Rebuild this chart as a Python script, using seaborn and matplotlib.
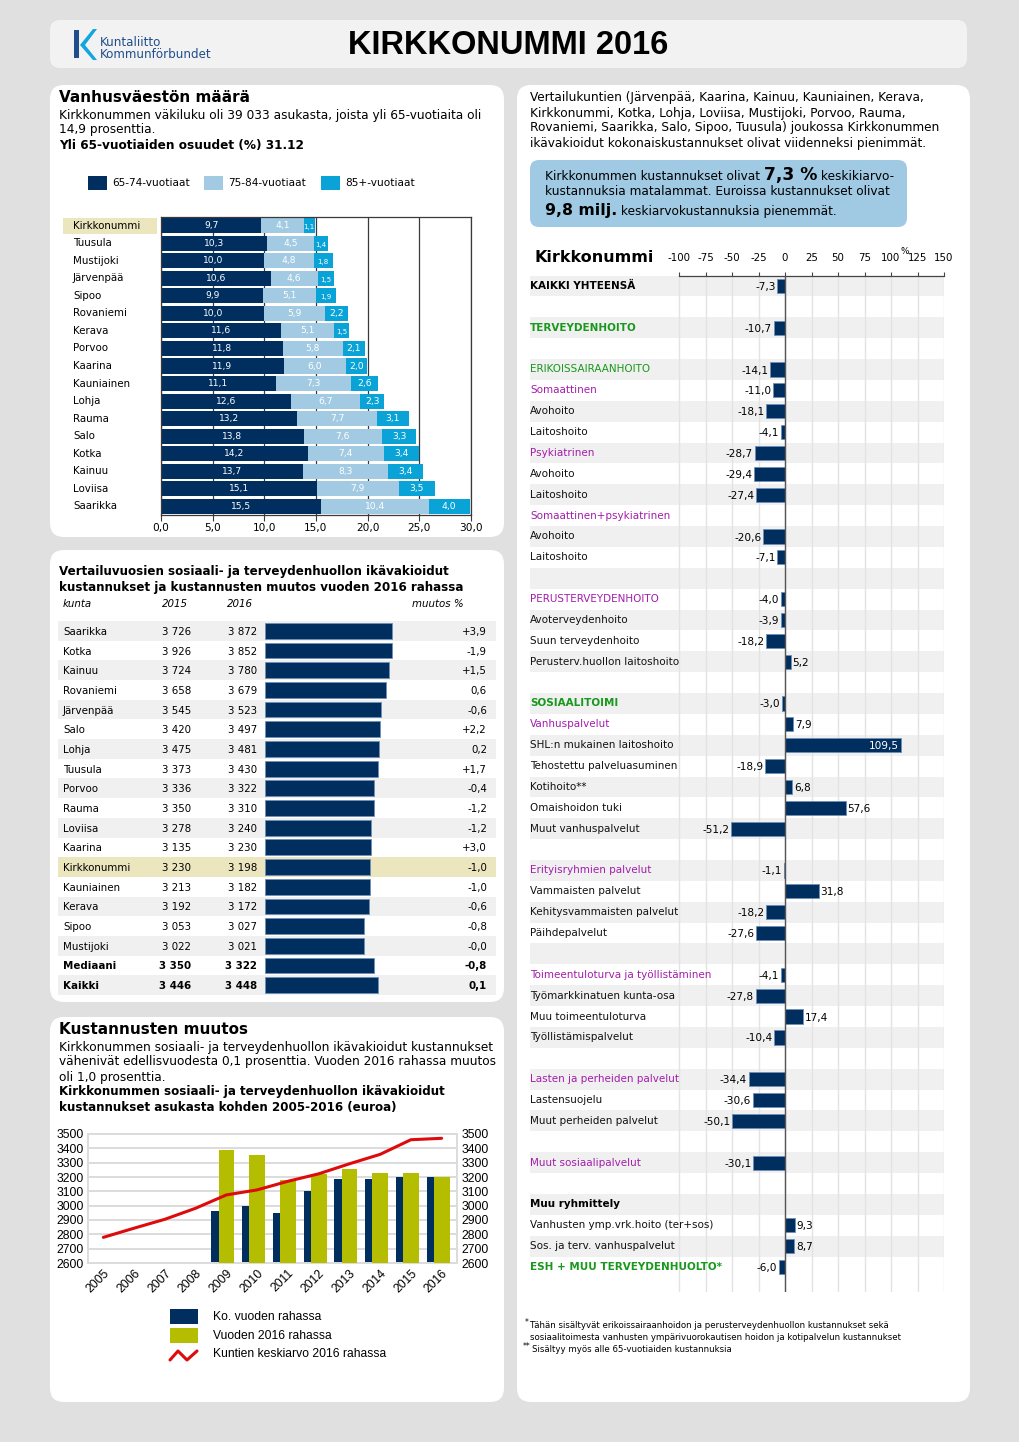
import numpy as np
import pandas as pd
import matplotlib.pyplot as plt
import matplotlib.transforms as mtrans
import seaborn as sns
from matplotlib.patches import FancyBboxPatch, Rectangle, Polygon

sns.set_style('white')
plt.rcParams['font.family'] = ['DejaVu Sans']
plt.rcParams['text.color'] = 'black'
plt.rcParams['xtick.color'] = 'black'
plt.rcParams['ytick.color'] = 'black'

# --- age structure (% of population) ---
AGE_TOWNS = ['Kirkkonummi', 'Tuusula', 'Mustijoki', 'Järvenpää', 'Sipoo', 'Rovaniemi',
             'Kerava', 'Porvoo', 'Kaarina', 'Kauniainen', 'Lohja', 'Rauma', 'Salo',
             'Kotka', 'Kainuu', 'Loviisa', 'Saarikka']
AGE_65_74 = [9.7, 10.3, 10.0, 10.6, 9.9, 10.0, 11.6, 11.8, 11.9, 11.1, 12.6, 13.2, 13.8,
             14.2, 13.7, 15.1, 15.5]
AGE_75_84 = [4.1, 4.5, 4.8, 4.6, 5.1, 5.9, 5.1, 5.8, 6.0, 7.3, 6.7, 7.7, 7.6,
             7.4, 8.3, 7.9, 10.4]
AGE_85 = [1.1, 1.4, 1.8, 1.5, 1.9, 2.2, 1.5, 2.1, 2.0, 2.6, 2.3, 3.1, 3.3,
          3.4, 3.4, 3.5, 4.0]
AGE_LABELS = ['65-74-vuotiaat', '75-84-vuotiaat', '85+-vuotiaat']
AGE_TICKS = [0, 5, 10, 15, 20, 25, 30]

# --- cost comparison table (euro / resident) ---
COST_TOWNS = ['Saarikka', 'Kotka', 'Kainuu', 'Rovaniemi', 'Järvenpää', 'Salo', 'Lohja',
              'Tuusula', 'Porvoo', 'Rauma', 'Loviisa', 'Kaarina', 'Kirkkonummi',
              'Kauniainen', 'Kerava', 'Sipoo', 'Mustijoki', 'Mediaani', 'Kaikki']
COST_2015 = [3726, 3926, 3724, 3658, 3545, 3420, 3475, 3373, 3336, 3350, 3278, 3135, 3230,
             3213, 3192, 3053, 3022, 3350, 3446]
COST_2016 = [3872, 3852, 3780, 3679, 3523, 3497, 3481, 3430, 3322, 3310, 3240, 3230, 3198,
             3182, 3172, 3027, 3021, 3322, 3448]
COST_CHANGE = ['+3,9', '-1,9', '+1,5', '0,6', '-0,6', '+2,2', '0,2', '+1,7', '-0,4', '-1,2',
               '-1,2', '+3,0', '-1,0', '-1,0', '-0,6', '-0,8', '-0,0', '-0,8', '0,1']

# --- cost development 2005-2016 ---
YEARS = list(range(2005, 2017))
OWN_MONEY = [np.nan, np.nan, np.nan, np.nan, 2961, 2996, 2952, 3101, 3189, 3184, 3201, 3198]
MONEY_2016 = [np.nan, np.nan, np.nan, np.nan, 3390, 3351, 3182, 3222, 3254, 3231, 3228, 3198]
AVG_2016 = [2779, 2843, 2905, 2982, 3075, 3110, 3170, 3222, 3292, 3358, 3460, 3470]
Y_TICKS = list(range(2600, 3501, 100))

# --- difference to average costs by task (%) ---
ITEMS = ['KAIKKI YHTEENSÄ', '', 'TERVEYDENHOITO', '', 'ERIKOISSAIRAANHOITO', 'Somaattinen',
         'Avohoito', 'Laitoshoito', 'Psykiatrinen', 'Avohoito', 'Laitoshoito',
         'Somaattinen+psykiatrinen', 'Avohoito', 'Laitoshoito', '', 'PERUSTERVEYDENHOITO',
         'Avoterveydenhoito', 'Suun terveydenhoito', 'Perusterv.huollon laitoshoito', '',
         'SOSIAALITOIMI', 'Vanhuspalvelut', 'SHL:n mukainen laitoshoito',
         'Tehostettu palveluasuminen', 'Kotihoito**', 'Omaishoidon tuki',
         'Muut vanhuspalvelut', '', 'Erityisryhmien palvelut', 'Vammaisten palvelut',
         'Kehitysvammaisten palvelut', 'Päihdepalvelut', '',
         'Toimeentuloturva ja työllistäminen', 'Työmarkkinatuen kunta-osa',
         'Muu toimeentuloturva', 'Työllistämispalvelut', '', 'Lasten ja perheiden palvelut',
         'Lastensuojelu', 'Muut perheiden palvelut', '', 'Muut sosiaalipalvelut', '',
         'Muu ryhmittely', 'Vanhusten ymp.vrk.hoito (ter+sos)', 'Sos. ja terv. vanhuspalvelut',
         'ESH + MUU TERVEYDENHUOLTO*']
ITEM_VALUES = [-7.3, np.nan, -10.7, np.nan, -14.1, -11.0, -18.1, -4.1, -28.7, -29.4, -27.4,
               np.nan, -20.6, -7.1, np.nan, -4.0, -3.9, -18.2, 5.2, np.nan, -3.0, 7.9, 109.5,
               -18.9, 6.8, 57.6, -51.2, np.nan, -1.1, 31.8, -18.2, -27.6, np.nan, -4.1, -27.8,
               17.4, -10.4, np.nan, -34.4, -30.6, -50.1, np.nan, -30.1, np.nan, np.nan, 9.3,
               8.7, -6.0]
DIFF_TICKS = [-100, -75, -50, -25, 0, 25, 50, 75, 100, 125, 150]

NAVY = '#002f5f'
LIGHT = '#a2cbe3'
CYAN = '#0aa3d8'
OLIVE = '#b5bd00'
RED = '#dd0b0b'
GREEN = '#18981c'
PURPLE = '#a31dac'
BEIGE = '#ece6bf'
SHADE = '#f0f0f0'
LOGO = '#1f4e8c'

BOLD_BLACK = {'KAIKKI YHTEENSÄ', 'Muu ryhmittely'}
BOLD_GREEN = {'TERVEYDENHOITO', 'SOSIAALITOIMI', 'ESH + MUU TERVEYDENHUOLTO*'}
PLAIN_GREEN = {'ERIKOISSAIRAANHOITO'}
PURPLE_ITEMS = {'Somaattinen', 'Psykiatrinen', 'Somaattinen+psykiatrinen', 'PERUSTERVEYDENHOITO',
                'Vanhuspalvelut', 'Erityisryhmien palvelut', 'Toimeentuloturva ja työllistäminen',
                'Lasten ja perheiden palvelut', 'Muut sosiaalipalvelut'}

W, H = 1020, 1442
BODY = 8.75


def fi(v):
    return f'{v:.1f}'.replace('.', ',')


def rect(x0, y0, x1, y1):
    return [x0 / W, 1 - y1 / H, (x1 - x0) / W, (y1 - y0) / H]


fig = plt.figure(figsize=(W / 100, H / 100), dpi=100)
fig.patch.set_facecolor('#e0e0e0')
bg = fig.add_axes([0, 0, 1, 1])
bg.set_xlim(0, W)
bg.set_ylim(H, 0)
bg.axis('off')
renderer = fig.canvas.get_renderer()


def panel(x0, y0, x1, y1, color='white', r=14):
    bg.add_patch(FancyBboxPatch((x0, y0), x1 - x0, y1 - y0,
                                boxstyle=f'round,pad=0,rounding_size={r}',
                                fc=color, ec='none', zorder=0))


def txt(x, y, s, size=BODY, **kw):
    kw.setdefault('va', 'center')
    return bg.text(x, y, s, fontsize=size, **kw)


def rich(x, y, parts, size=BODY):
    # consecutive text pieces with mixed weights/sizes on one baseline
    for s, big in parts:
        t = bg.text(x, y, s, fontsize=big if big else size,
                    fontweight='bold' if big else 'normal', va='baseline')
        x += t.get_window_extent(renderer).width


# panels
panel(50, 20, 967, 68, '#f2f2f2', 10)
panel(50, 85, 504, 537)
panel(50, 550, 504, 1002)
panel(50, 1017, 504, 1402)
panel(517, 85, 970, 1402)

# header
bg.add_patch(Polygon([(74, 30), (79, 30), (79, 58), (74, 58)], fc=LOGO, ec='none'))
bg.add_patch(Polygon([(80, 45), (93, 29), (97, 29), (85, 45), (97, 60), (93, 60)],
                     fc='#12a6e0', ec='none'))
txt(100, 43, 'Kuntaliitto', 8.6, color=LOGO)
txt(100, 55, 'Kommunförbundet', 8.6, color=LOGO)
txt(508, 46, 'KIRKKONUMMI 2016', 23.5, fontweight='bold', ha='center',
    family='Liberation Sans')

# ---------------- panel 1: age structure ----------------
txt(59, 98, 'Vanhusväestön määrä', 11, fontweight='bold')
txt(59, 115, 'Kirkkonummen väkiluku oli 39 033 asukasta, joista yli 65-vuotiaita oli')
txt(59, 130, '14,9 prosenttia.')
txt(59, 145, 'Yli 65-vuotiaiden osuudet (%) 31.12', fontweight='bold')

for lx, col, lab in zip([88, 204, 321], [NAVY, LIGHT, CYAN], AGE_LABELS):
    bg.add_patch(Rectangle((lx, 176), 19, 14, fc=col, ec='none'))
    txt(lx + 24, 183, lab, 7.6)

bg.add_patch(Rectangle((63, 218), 94, 16, fc=BEIGE, ec='none'))

ax1 = fig.add_axes(rect(161, 217, 471, 515))
a = np.array(AGE_65_74)
ab = a + np.array(AGE_75_84)
tot = ab + np.array(AGE_85)
for vals, col in [(tot, CYAN), (ab, LIGHT), (a, NAVY)]:
    sns.barplot(x=vals, y=AGE_TOWNS, color=col, saturation=1, width=0.86,
                orient='h', ax=ax1, zorder=2, linewidth=0)
ax1.set_xlim(0, 30)
ax1.set_ylim(len(AGE_TOWNS) - 0.5, -0.5)
ax1.set_xticks(AGE_TICKS)
ax1.set_xticklabels([fi(t) for t in AGE_TICKS], fontsize=7.6)
ax1.set_yticks([])
ax1.set_xlabel('')
ax1.set_ylabel('')
ax1.set_axisbelow(True)
ax1.grid(axis='x', color='#3a3a3a', lw=0.9)
for sp in ax1.spines.values():
    sp.set_color('#3a3a3a')
    sp.set_linewidth(0.9)
ax1.tick_params(axis='x', length=4, color='#3a3a3a', pad=2, bottom=True)
lab_tr = mtrans.blended_transform_factory(bg.transData, ax1.transData)
for i, town in enumerate(AGE_TOWNS):
    ax1.text(73, i, town, transform=lab_tr, fontsize=7.4, va='center', clip_on=False)
    starts = [0, a[i], ab[i]]
    for s, v in zip(starts, [AGE_65_74[i], AGE_75_84[i], AGE_85[i]]):
        small = v < 2
        ax1.text(s + v / 2, i + (0.08 if small else 0), fi(v), ha='center', va='center',
                 color='white', fontsize=5 if small else 6.6, zorder=4)

# ---------------- panel 2: cost table ----------------
txt(59, 572, 'Vertailuvuosien sosiaali- ja terveydenhuollon ikävakioidut', 8.6,
    fontweight='bold')
txt(59, 587, 'kustannukset ja kustannusten muutos vuoden 2016 rahassa', 8.6,
    fontweight='bold')
for x, s, ha in [(63, 'kunta', 'left'), (162, '2015', 'left'), (227, '2016', 'left'),
                 (464, 'muutos %', 'right')]:
    txt(x, 604, s, 7.4, style='italic', ha=ha)

n_cost = len(COST_TOWNS)
tab = fig.add_axes(rect(58, 621, 496, 995))
tab.set_xlim(58, 496)
tab.set_ylim(n_cost - 0.5, -0.5)
tab.axis('off')
for i, town in enumerate(COST_TOWNS):
    if town == 'Kirkkonummi':
        tab.axhspan(i - 0.5, i + 0.5, color=BEIGE, lw=0)
    elif i % 2 == 0:
        tab.axhspan(i - 0.5, i + 0.5, color=SHADE, lw=0)
    w = 'bold' if town in ('Mediaani', 'Kaikki') else 'normal'
    yy = i + 0.05
    tab.text(63, yy, town, fontsize=7.4, va='center', fontweight=w)
    tab.text(191, yy, f'{COST_2015[i]:,}'.replace(',', ' '), fontsize=7.4, va='center',
             ha='right', fontweight=w)
    tab.text(257, yy, f'{COST_2016[i]:,}'.replace(',', ' '), fontsize=7.4, va='center',
             ha='right', fontweight=w)
    tab.text(487, yy, COST_CHANGE[i], fontsize=7.4, va='center', ha='right', fontweight=w)

axb = fig.add_axes(rect(265, 621, 495, 995))
axb.patch.set_alpha(0)
sns.barplot(x=COST_2016, y=np.arange(n_cost), orient='h', native_scale=True, color=NAVY,
            saturation=1, width=0.8, edgecolor='#6f8fb8', linewidth=0.6, ax=axb)
axb.set_xlim(0, 7000)
axb.set_ylim(n_cost - 0.5, -0.5)
axb.axis('off')

# ---------------- panel 3: development ----------------
txt(59, 1030, 'Kustannusten muutos', 11, fontweight='bold')
txt(59, 1047, 'Kirkkonummen sosiaali- ja terveydenhuollon ikävakioidut kustannukset')
txt(59, 1062, 'vähenivät edellisvuodesta 0,1 prosenttia. Vuoden 2016 rahassa muutos')
txt(59, 1077, 'oli 1,0 prosenttia.')
txt(59, 1092, 'Kirkkonummen sosiaali- ja terveydenhuollon ikävakioidut', 8.6, fontweight='bold')
txt(59, 1107, 'kustannukset asukasta kohden 2005-2016 (euroa)', 8.6, fontweight='bold')

ax3 = fig.add_axes(rect(88, 1134, 457, 1263))
yrs = np.array(YEARS, dtype=float)
sns.barplot(x=yrs - 0.235, y=OWN_MONEY, native_scale=True, color=NAVY, saturation=1,
            width=0.51, linewidth=0, ax=ax3, zorder=2)
sns.barplot(x=yrs + 0.005, y=MONEY_2016, native_scale=True, color=OLIVE, saturation=1,
            width=0.51, linewidth=0, ax=ax3, zorder=3)
sns.lineplot(x=yrs, y=AVG_2016, color=RED, lw=2.2, ax=ax3, zorder=5)
ax3.set_xlim(2004.5, 2016.5)
ax3.set_ylim(2600, 3500)
ax3.set_yticks(Y_TICKS)
ax3.set_yticklabels([str(t) for t in Y_TICKS], fontsize=8.8, family='Liberation Sans')
ax3.set_xticks(YEARS)
ax3.set_xticklabels([str(y) for y in YEARS], fontsize=8.8, family='Liberation Sans',
                    rotation=45, ha='right', va='top', rotation_mode='anchor')
ax3.tick_params(axis='both', length=0, pad=3)
ax3.tick_params(axis='y', labelright=True, pad=3)
ax3.set_xlabel('')
ax3.set_ylabel('')
ax3.set_axisbelow(True)
ax3.grid(axis='y', color='#dcdcdc', lw=1.4)
for sp in ax3.spines.values():
    sp.set_color('#dcdcdc')
    sp.set_linewidth(1.4)

bg.add_patch(Rectangle((170, 1309), 28, 15, fc=NAVY, ec='none'))
bg.add_patch(Rectangle((170, 1328), 28, 15, fc=OLIVE, ec='none'))
bg.plot([170, 178, 187, 197], [1360, 1351, 1360, 1351], color=RED, lw=2.2)
for yy, s in [(1317, 'Ko. vuoden rahassa'), (1336, 'Vuoden 2016 rahassa'),
              (1354, 'Kuntien keskiarvo 2016 rahassa')]:
    txt(213, yy, s, 8.7, family='Liberation Sans')

# ---------------- right panel ----------------
for yy, s in [(98, 'Vertailukuntien (Järvenpää, Kaarina, Kainuu, Kauniainen, Kerava,'),
              (113, 'Kirkkonummi, Kotka, Lohja, Loviisa, Mustijoki, Porvoo, Rauma,'),
              (128, 'Rovaniemi, Saarikka, Salo, Sipoo, Tuusula) joukossa Kirkkonummen'),
              (143, 'ikävakioidut kokonaiskustannukset olivat viidenneksi pienimmät.')]:
    txt(530, yy, s)

panel(530, 160, 907, 227, '#a0cae3', 9)
rich(545, 180, [('Kirkkonummen kustannukset olivat ', 0), ('7,3 %', 12.3),
                (' keskikiarvo-', 0)])
rich(545, 195, [('kustannuksia matalammat. Euroissa kustannukset olivat', 0)])
rich(545, 215, [('9,8 milj.', 11.3), (' keskiarvokustannuksia pienemmät.', 0)])

txt(535, 258, 'Kirkkonummi', 11.5, fontweight='bold')
txt(905, 251, '%', 6.5, ha='center')

n_items = len(ITEMS)
pitch = (1267 - 286) / (n_items - 1)
y_top = 286 - pitch / 2
ylow = (1292 - y_top) / pitch - 0.5
ax4 = fig.add_axes(rect(530, y_top, 944, 1292))
ax4.patch.set_alpha(0)
for i in range(0, n_items, 2):
    ax4.axhspan(i - 0.5, i + 0.5, color=SHADE, lw=0, zorder=0)
sns.barplot(x=ITEM_VALUES, y=np.arange(n_items), orient='h', native_scale=True, color=NAVY,
            saturation=1, width=0.68, edgecolor='#6f8fb8', linewidth=0.6, ax=ax4, zorder=3)
xmin = -100 - (679 - 530) / (265 / 250)
ax4.set_xlim(xmin, 150)
ax4.set_ylim(ylow, -0.5)
ax4.set_yticks([])
ax4.set_xlabel('')
ax4.set_ylabel('')
ax4.xaxis.tick_top()
ax4.set_xticks(DIFF_TICKS)
ax4.set_xticklabels([str(t) for t in DIFF_TICKS], fontsize=7.4)
ax4.tick_params(axis='x', length=3, direction='out', color='#444', pad=6)
for side in ['left', 'right', 'bottom']:
    ax4.spines[side].set_visible(False)
ax4.spines['top'].set_bounds(-100, 150)
ax4.spines['top'].set_color('#444')
ax4.spines['top'].set_linewidth(0.9)
ax4.set_axisbelow(True)
ax4.grid(axis='x', color='#e3e3e3', lw=1)
ax4.axvline(0, color='#555', lw=1, zorder=4)
for i, (lab, v) in enumerate(zip(ITEMS, ITEM_VALUES)):
    if lab in BOLD_BLACK:
        col, w = 'black', 'bold'
    elif lab in BOLD_GREEN:
        col, w = GREEN, 'bold'
    elif lab in PLAIN_GREEN:
        col, w = GREEN, 'normal'
    elif lab in PURPLE_ITEMS:
        col, w = PURPLE, 'normal'
    else:
        col, w = '#111111', 'normal'
    ax4.text(xmin + 0.3, i, lab, color=col, fontweight=w, fontsize=7.5, va='center', zorder=5)
    if np.isnan(v):
        continue
    if v > 100:
        ax4.text(v - 2, i + 0.05, fi(v), ha='right', va='center', color='white',
                 fontsize=7.6, zorder=5)
    elif v < 0:
        ax4.text(v - 1.5, i + 0.05, fi(v), ha='right', va='center', fontsize=7.6, zorder=5)
    else:
        ax4.text(v + 1.5, i + 0.05, fi(v), ha='left', va='center', fontsize=7.6, zorder=5)

# footnotes
txt(525, 1322, '*', 5.5)
txt(530, 1325, 'Tähän sisältyvät erikoissairaanhoidon ja perusterveydenhuollon kustannukset sekä', 6.2)
txt(530, 1337, 'sosiaalitoimesta vanhusten ympärivuorokautisen hoidon ja kotipalvelun kustannukset', 6.2)
txt(523, 1346, '**', 5.5)
txt(532, 1349, 'Sisältyy myös alle 65-vuotiaiden kustannuksia', 6.2)

fig.savefig('out.png', dpi=100, facecolor=fig.get_facecolor())
